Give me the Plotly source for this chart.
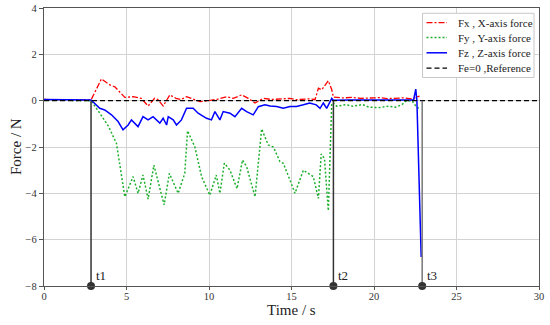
import plotly.graph_objects as go

# ---------------- data ----------------
fx_t = [0, 1.0, 2.0, 2.85, 3.48, 3.99, 4.29, 4.9, 5.4, 5.9, 6.31, 6.7, 6.9, 7.22, 7.63, 8.0, 8.3, 8.64,
        9.0, 9.45, 9.95, 10.5, 11.07, 11.47, 11.98, 12.38, 12.79, 13.29, 13.8, 14.3, 14.9, 15.3, 15.7,
        16.1, 16.43, 16.63, 16.83, 17.03, 17.23, 17.44, 17.54, 18.1, 18.7, 19.2, 19.7, 20.3, 20.8,
        21.3, 21.8, 22.3, 22.76]
fx_v = [0.05, 0.04, 0.06, 0.03, 0.94, 0.68, 0.6, 0.14, 0.17, 0.1, -0.23, 0.1, 0.05, -0.23, 0.25, 0.1, 0.05, 0.17,
        0.08, -0.04, 0.0, 0.06, 0.17, 0.1, 0.25, 0.1, -0.1, 0.1, 0.05, 0.07, 0.1, 0.04, 0.07,
        0.08, 0.05, 0.54, 0.47, 0.68, 0.86, 0.47, 0.15, 0.12, 0.14, 0.1, 0.1, 0.13, 0.09,
        0.1, 0.12, 0.07, 0.2]

fy_t = [0, 1.0, 2.0, 2.85, 3.38, 3.9, 4.39, 4.9, 5.4, 5.7, 6.0, 6.31, 6.66, 6.99, 7.28, 7.6, 8.13, 8.53, 8.7,
        9.14, 9.55, 10.05, 10.44, 10.66, 10.93, 11.27, 11.7, 12.03, 12.28, 12.79, 13.19, 13.59, 13.9,
        14.3, 14.5, 14.91, 15.21, 15.72, 16.02, 16.32, 16.63, 16.8, 17.0, 17.23, 17.44, 17.54, 17.74,
        18.3, 18.7, 19.3, 19.7, 20.3, 20.9, 21.3, 21.7, 21.9, 22.3, 22.6, 22.8]
fy_v = [0.03, 0.02, 0.04, 0.0, -0.54, -1.1, -1.84, -4.15, -3.28, -4.0, -3.21, -4.25, -2.78, -3.72, -4.5, -3.14, -4.0, -3.14, -1.3,
        -1.99, -3.28, -4.08, -3.21, -4.0, -2.7, -3.0, -3.8, -2.56, -2.85, -4.15, -1.22, -1.91, -2.0,
        -2.63, -2.7, -3.43, -4.0, -3.0, -3.14, -3.28, -4.22, -2.3, -2.5, -4.75, -0.1, -0.1, -0.24,
        -0.17, -0.24, -0.17, -0.28, -0.3, -0.24, -0.28, -0.17, -0.03, 0.0, -0.3, -0.33]

fz_t = [0, 1.0, 2.0, 2.85, 3.38, 3.68, 4.09, 4.49, 4.79, 5.1, 5.3, 5.7, 6.0, 6.31, 6.61, 7.02, 7.22, 7.43,
        7.53, 7.83, 8.03, 8.33, 8.64, 9.04, 9.34, 9.85, 10.15, 10.36, 10.66, 10.86, 11.27, 11.57,
        11.98, 12.28, 12.68, 12.99, 13.39, 13.7, 14.1, 14.5, 14.91, 15.3, 15.72, 16.1, 16.5, 16.73,
        16.93, 17.13, 17.44, 17.54, 18.5, 19.5, 20.5, 21.5, 22.4, 22.53, 22.6, 22.7, 22.8, 22.86]
fz_v = [0.05, 0.04, 0.05, 0.03, -0.33, -0.4, -0.61, -0.9, -1.26, -1.05, -0.83, -1.12, -0.69, -0.83, -0.69, -0.97, -0.76, -1.05,
        -0.69, -0.83, -1.05, -0.83, -0.33, -0.33, -0.54, -0.76, -0.83, -0.47, -0.83, -0.47, -0.54, -0.69,
        -0.33, -0.47, -0.61, -0.26, -0.18, -0.23, -0.25, -0.33, -0.25, -0.25, -0.18, -0.1, -0.18, -0.33,
        -0.1, -0.33, 0.1, 0.02, 0.03, 0.02, 0.04, 0.03, 0.03, 0.5, 0.0, -2.56, -4.64, -6.75]

ref_t = [0, 30]
ref_v = [0, 0]

series_names = ["Fx , X-axis force", "Fy , Y-axis force", "Fz , Z-axis force", "Fe=0 ,Reference"]

event_names = ["t1", "t2", "t3"]
event_times = [2.85, 17.54, 22.92]
event_colors = ["#333333", "#333333", "#777777"]

x_ticks = [0, 5, 10, 15, 20, 25, 30]
y_ticks = [-8, -6, -4, -2, 0, 2, 4]
x_title = "Time / s"
y_title = "Force / N"

FONT = "Liberation Serif"
W, H = 550, 325
ML, MR, MT, MB = 44, 11, 8, 39
PW, PH = W - ML - MR, H - MT - MB

def px(xp):
    return (xp - ML) / PW

def py(yp):
    return 1 - (yp - MT) / PH

styles = [
    dict(color="#FF0000", width=1.3, dash="6px,2px,2px,2px"),
    dict(color="#1FAF2F", width=1.5, dash="2px,2px"),
    dict(color="#0000FF", width=1.5),
    dict(color="#000000", width=1.3, dash="5px,3px"),
]

fig = go.Figure()
for (xs, ys), name, st in zip([(fx_t, fx_v), (fy_t, fy_v), (fz_t, fz_v), (ref_t, ref_v)], series_names, styles):
    fig.add_trace(go.Scatter(x=xs, y=ys, mode="lines", name=name, line=st, showlegend=False))

# event markers: vertical lines from -8 to 0, dots at bottom, labels
for name, t, c in zip(event_names, event_times, event_colors):
    fig.add_trace(go.Scatter(x=[t, t], y=[-8, 0], mode="lines", showlegend=False,
                             line=dict(color=c, width=1.5), hoverinfo="skip"))
    fig.add_annotation(x=t, y=-8, text=name, showarrow=False, xanchor="left", yanchor="bottom",
                       xshift=3, yshift=1, font=dict(family=FONT, size=13, color="#222"))
fig.add_trace(go.Scatter(x=event_times, y=[-8] * 3, mode="markers", showlegend=False,
                         marker=dict(color="#333333", size=8),
                         cliponaxis=False, hoverinfo="skip"))

# manual legend (compact box)
fig.add_shape(type="rect", xref="paper", yref="paper", x0=px(422.5), x1=px(534), y0=py(77.5), y1=py(13.3),
              line=dict(color="#c8c8c8", width=1), fillcolor="white", layer="above")
row_y = [22.7, 37.6, 52.8, 68.2]
for name, st, ry in zip(series_names, styles, row_y):
    fig.add_shape(type="line", xref="paper", yref="paper", x0=px(426.5), x1=px(447), y0=py(ry), y1=py(ry),
                  line=dict(color=st["color"], width=st["width"], dash=st.get("dash", "solid")), layer="above")
    fig.add_annotation(xref="paper", yref="paper", x=px(455.5), y=py(ry), text=name, showarrow=False,
                       xanchor="left", yanchor="middle", font=dict(family=FONT, size=11, color="#222"))

# axis titles
fig.add_annotation(xref="paper", yref="paper", x=px((ML + W - MR) / 2), y=py(310), text=x_title,
                   showarrow=False, xanchor="center", yanchor="middle",
                   font=dict(family=FONT, size=15, color="#222"))
fig.add_annotation(xref="paper", yref="paper", x=px(16), y=py(147), text=y_title, textangle=-90,
                   showarrow=False, xanchor="center", yanchor="middle",
                   font=dict(family=FONT, size=15, color="#222"))

fig.update_layout(
    width=W, height=H,
    margin=dict(l=ML, r=MR, t=MT, b=MB),
    paper_bgcolor="white", plot_bgcolor="white",
    font=dict(family=FONT, size=10, color="#333"),
    showlegend=False,
)
fig.update_xaxes(range=[0, 30], tickvals=x_ticks, showgrid=True, gridcolor="#d3d3d3", gridwidth=1,
                 showline=True, linecolor="#555", linewidth=1.3, mirror=True,
                 ticks="outside", ticklen=3, tickcolor="#555", zeroline=False, automargin=False,
                 ticklabelstandoff=-3,
                 tickfont=dict(family=FONT, size=10.5, color="#333"))
fig.update_yaxes(range=[-8, 4], tickvals=y_ticks, showgrid=True, gridcolor="#d3d3d3", gridwidth=1,
                 showline=True, linecolor="#555", linewidth=1.3, mirror=True,
                 ticks="outside", ticklen=4, tickcolor="#555", zeroline=False, automargin=False,
                 tickfont=dict(family=FONT, size=10.5, color="#333"))

fig.write_html("out.html", config={"displayModeBar": False},
               post_script="document.body.style.margin='0';")
